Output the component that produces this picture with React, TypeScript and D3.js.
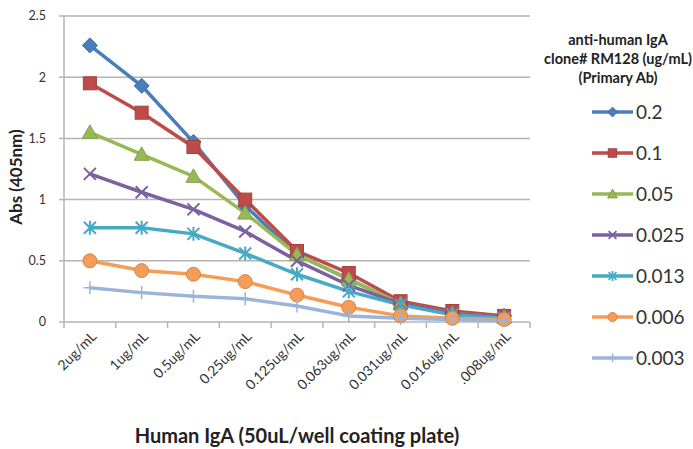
import React from "react";
import * as d3 from "d3";

const categories = ["2ug/mL", "1ug/mL", "0.5ug/mL", "0.25ug/mL", "0.125ug/mL", "0.063ug/mL", "0.031ug/mL", "0.016ug/mL", ".008ug/mL"];
const seriesNames = ["0.2", "0.1", "0.05", "0.025", "0.013", "0.006", "0.003"];
const s0_2 = [2.26, 1.93, 1.47, 0.95, 0.55, 0.35, 0.15, 0.08, 0.05];
const s0_1 = [1.95, 1.71, 1.43, 1.0, 0.58, 0.4, 0.17, 0.09, 0.05];
const s0_05 = [1.55, 1.37, 1.19, 0.89, 0.55, 0.35, 0.15, 0.07, 0.04];
const s0_025 = [1.21, 1.06, 0.92, 0.74, 0.5, 0.3, 0.15, 0.07, 0.04];
const s0_013 = [0.77, 0.77, 0.72, 0.56, 0.39, 0.25, 0.14, 0.06, 0.03];
const s0_006 = [0.5, 0.42, 0.39, 0.33, 0.22, 0.12, 0.05, 0.03, 0.02];
const s0_003 = [0.28, 0.24, 0.21, 0.19, 0.13, 0.05, 0.03, 0.02, 0.01];
const seriesValues = [s0_2, s0_1, s0_05, s0_025, s0_013, s0_006, s0_003];
const yTicks = [0, 0.5, 1, 1.5, 2, 2.5];
const yTickLabels = ["0", "0.5", "1", "1.5", "2", "2.5"];
const legendTitle = ["anti-human IgA", "clone# RM128 (ug/mL)", "(Primary Ab)"];
const xTitle = "Human IgA (50uL/well coating plate)";
const yTitle = "Abs (405nm)";

const colors = ["#4A7EBB", "#BE4B48", "#98B954", "#7D60A0", "#46AAC5", "#F59D56", "#9BB4D8"];
const markerTypes = ["diamond", "square", "triangle", "x", "star", "circle", "plus"];

const FONT = "Lato, 'Open Sans', sans-serif";
const W = 693, H = 449;
const M = { left: 64, right: 530, top: 16, bottom: 322 };

function Marker({ type, x, y, color, s = 1 }: { type: string; x: number; y: number; color: string; s?: number }) {
  const dark = d3.color(color)!.darker(0.4).toString();
  switch (type) {
    case "diamond": {
      const r = 7.5 * s;
      return <path d={`M${x},${y - r}L${x + r},${y}L${x},${y + r}L${x - r},${y}Z`} fill={color} stroke={dark} strokeWidth={1} />;
    }
    case "square": {
      const r = 6.5 * s;
      return <rect x={x - r} y={y - r} width={2 * r} height={2 * r} fill={color} stroke={dark} strokeWidth={1} />;
    }
    case "triangle": {
      const r = 7.5 * s;
      return <path d={`M${x},${y - r}L${x + r},${y + r * 0.8}L${x - r},${y + r * 0.8}Z`} fill={color} stroke={dark} strokeWidth={1} />;
    }
    case "x": {
      const r = 6 * s;
      return <path d={`M${x - r},${y - r}L${x + r},${y + r}M${x + r},${y - r}L${x - r},${y + r}`} stroke={color} strokeWidth={2 * Math.min(1, s + 0.2)} />;
    }
    case "star": {
      const r = 6 * s;
      return <path d={`M${x - r},${y - r}L${x + r},${y + r}M${x + r},${y - r}L${x - r},${y + r}M${x},${y - r - 1}L${x},${y + r + 1}`} stroke={color} strokeWidth={2 * Math.min(1, s + 0.2)} />;
    }
    case "circle":
      return <circle cx={x} cy={y} r={7 * s} fill={color} stroke={dark} strokeWidth={1} />;
    case "plus": {
      const r = 6.5 * s;
      return <path d={`M${x},${y - r}L${x},${y + r}M${x - r},${y}L${x + r},${y}`} stroke={color} strokeWidth={1.5} />;
    }
  }
  return null;
}

export default function App() {
  const x = d3.scaleBand<string>().domain(categories).range([M.left, M.right]);
  const y = d3.scaleLinear().domain([0, 2.5]).range([M.bottom, M.top]);
  const line = d3
    .line<number>()
    .x((_, i) => x(categories[i])! + x.bandwidth() / 2)
    .y((d) => y(d));
  const gridColor = "#B4B4B4";
  const boundaries = categories.map((c) => x(c)!).concat([M.right]);
  const legendY0 = 112;
  const legendStep = 41;

  return (
    <svg width={W} height={H} style={{ position: "absolute", left: 0, top: 0, background: "#fff" }} fontFamily={FONT}>
      <rect width={W} height={H} fill="#fff" />
      {yTicks.map((t, i) =>
        i === 0 ? null : <line key={t} x1={M.left} x2={M.right} y1={y(t)} y2={y(t)} stroke={gridColor} strokeWidth={1.5} />
      )}
      <line x1={M.left} x2={M.left} y1={M.top} y2={M.bottom} stroke={gridColor} strokeWidth={1.5} />
      {yTicks.map((t, i) => (
        <g key={"yt" + t}>
          <line x1={M.left - 5} x2={M.left} y1={y(t)} y2={y(t)} stroke={gridColor} strokeWidth={1.5} />
          <text x={M.left - 18} y={y(t)} dy="0.35em" textAnchor="end" fontSize={12.5} fill="#333">
            {yTickLabels[i]}
          </text>
        </g>
      ))}
      <line x1={M.left} x2={M.right} y1={M.bottom} y2={M.bottom} stroke={gridColor} strokeWidth={1.5} />
      {boundaries.map((b, i) => (
        <line key={"xt" + i} x1={b} x2={b} y1={M.bottom} y2={M.bottom + 6} stroke={gridColor} strokeWidth={1.5} />
      ))}
      {categories.map((c) => {
        const cx = x(c)! + x.bandwidth() / 2;
        return (
          <text key={c} transform={`translate(${cx + 4},${M.bottom + 12}) rotate(-45)`} textAnchor="end" fontSize={14} fill="#333" dy="0.35em">
            {c}
          </text>
        );
      })}
      {seriesValues.map((vals, si) => (
        <path key={"l" + si} d={line(vals)!} fill="none" stroke={colors[si]} strokeWidth={3.5} strokeLinejoin="round" />
      ))}
      {seriesValues.map((vals, si) => (
        <g key={"m" + si}>
          {vals.map((v, i) => (
            <Marker key={i} type={markerTypes[si]} x={x(categories[i])! + x.bandwidth() / 2} y={y(v)} color={colors[si]} />
          ))}
        </g>
      ))}
      <text transform={`translate(22,${(M.top + M.bottom) / 2 + 8}) rotate(-90)`} textAnchor="middle" fontSize={17} fontWeight="bold" fill="#222">
        {yTitle}
      </text>
      <text x={(M.left + M.right) / 2} y={443} textAnchor="middle" fontSize={20} fontWeight="bold" fill="#222">
        {xTitle}
      </text>
      {legendTitle.map((t, i) => (
        <text key={t} x={618} y={40 + i * 19} dy="0.35em" textAnchor="middle" fontSize={14.5} fontWeight="bold" fill="#222">
          {t}
        </text>
      ))}
      {seriesNames.map((n, si) => {
        const ly = legendY0 + si * legendStep;
        return (
          <g key={n}>
            <line x1={592} x2={633} y1={ly} y2={ly} stroke={colors[si]} strokeWidth={3.5} />
            <Marker type={markerTypes[si]} x={612.5} y={ly} color={colors[si]} s={0.65} />
            <text x={636} y={ly} dy="0.35em" fontSize={19} fill="#333">
              {n}
            </text>
          </g>
        );
      })}
    </svg>
  );
}
